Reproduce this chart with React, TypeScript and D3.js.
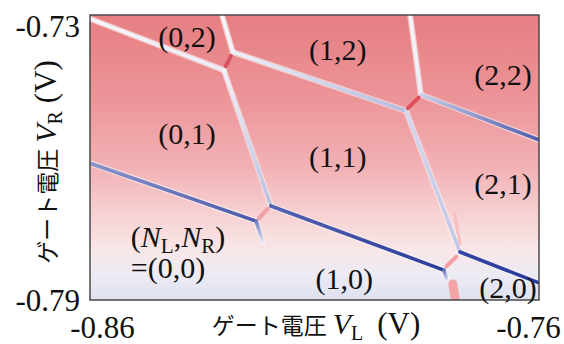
import React, { useEffect, useRef } from 'react';
import * as d3 from 'd3';

const xDomain: [number, number] = [-0.86, -0.76];
const yDomain: [number, number] = [-0.79, -0.73];
const xTicks = [-0.86, -0.76];
const yTicks = [-0.73, -0.79];
const xTickLabels = ['-0.86', '-0.76'];
const yTickLabels = ['-0.73', '-0.79'];

// background colour as a function of V_R
const bgLevels = [-0.73, -0.7479, -0.7626, -0.7721, -0.7795, -0.7847, -0.79];
const bgColors = ['#e67e82', '#ec9599', '#f2b3b6', '#f7d1d3', '#f9e7e8', '#ecebf4', '#dfe1f0'];

// charge transition lines, [V_L, V_R] points
const transitionLines: [number, number][][] = [
  [[-0.86, -0.7308], [-0.8302, -0.7416]],
  [[-0.8306, -0.73], [-0.8282, -0.7378]],
  [[-0.8282, -0.7378], [-0.7896, -0.7502]],
  [[-0.7887, -0.73], [-0.7863, -0.7468]],
  [[-0.7863, -0.7468], [-0.76, -0.7563]],
  [[-0.8302, -0.7416], [-0.8197, -0.7702]],
  [[-0.7896, -0.7502], [-0.7776, -0.7799]],
  [[-0.86, -0.7612], [-0.823, -0.7734]],
  [[-0.8197, -0.7702], [-0.7812, -0.7837]],
  [[-0.7776, -0.7799], [-0.76, -0.7864]],
  [[-0.823, -0.7734], [-0.8215, -0.7778]],
  [[-0.7812, -0.7837], [-0.7805, -0.7858]],
];
const lineColors: [string, string][] = [
  ['#f4f3f8', '#eceef8'],
  ['#f6f5f9', '#f2f2f8'],
  ['#eef0f8', '#b4bce0'],
  ['#f6f6fa', '#eceef8'],
  ['#c8cee8', '#4a5aae'],
  ['#f2f2f8', '#b8c0e2'],
  ['#d3d8ee', '#c0c6e6'],
  ['#8894cc', '#4858aa'],
  ['#5262b2', '#2c3e9c'],
  ['#3446a2', '#2a3c9c'],
  ['#7080c0', '#e8eaf6'],
  ['#6070b8', '#dfe2f2'],
];

// inter-dot (red) segments between triple points, and other red traces
const redLines: [number, number][][] = [
  [[-0.8298, -0.7408], [-0.8286, -0.7386]],
  [[-0.7892, -0.7496], [-0.7868, -0.7474]],
  [[-0.8224, -0.7728], [-0.8204, -0.7708]],
  [[-0.7806, -0.7829], [-0.7784, -0.7809]],
  [[-0.7792, -0.7866], [-0.7787, -0.7895]],
  [[-0.7788, -0.7716], [-0.7776, -0.7782]],
];
const redColors = ['#d85262', '#e0505c', '#f0a0a4', '#f2a0a2', '#f4a4a6', '#f4c0c2'];
const redWidths = [4, 4, 4, 4, 9, 3];

const regionLabels = ['(0,2)', '(1,2)', '(2,2)', '(0,1)', '(1,1)', '(2,1)', '(1,0)', '(2,0)'];
const regionAt: [number, number][] = [
  [-0.8384, -0.7346],
  [-0.8048, -0.7374],
  [-0.768, -0.7426],
  [-0.8384, -0.7551],
  [-0.8048, -0.7599],
  [-0.768, -0.7656],
  [-0.8034, -0.7856],
  [-0.7669, -0.7875],
];

const SERIF = 'Liberation Serif';
const CJK = 'Noto Sans CJK JP';

export default function App() {
  const svgRef = useRef<SVGSVGElement>(null);

  useEffect(() => {
    document.body.style.margin = '0';
    if (!svgRef.current) return;
    const svg = d3.select(svgRef.current);
    svg.selectAll('*').remove();

    const x = d3.scaleLinear().domain(xDomain).range([90, 539]);
    const y = d3.scaleLinear().domain(yDomain).range([300, 15]);
    const defs = svg.append('defs');

    // background
    const bg = defs
      .append('linearGradient')
      .attr('id', 'bg')
      .attr('gradientUnits', 'userSpaceOnUse')
      .attr('x1', 0)
      .attr('x2', 0)
      .attr('y1', y(-0.73))
      .attr('y2', y(-0.79));
    bgLevels.forEach((v, i) => {
      bg.append('stop')
        .attr('offset', (v - -0.73) / (-0.79 - -0.73))
        .attr('stop-color', bgColors[i]);
    });
    defs
      .append('filter')
      .attr('id', 'soft')
      .attr('x', '-20%')
      .attr('y', '-20%')
      .attr('width', '140%')
      .attr('height', '140%')
      .append('feGaussianBlur')
      .attr('stdDeviation', 0.7);
    defs.append('clipPath').attr('id', 'plot').append('rect')
      .attr('x', x(-0.86)).attr('y', y(-0.73))
      .attr('width', x(-0.76) - x(-0.86)).attr('height', y(-0.79) - y(-0.73));

    const g = svg.append('g').attr('clip-path', 'url(#plot)');
    g.append('rect')
      .attr('x', x(-0.86))
      .attr('y', y(-0.73))
      .attr('width', x(-0.76) - x(-0.86))
      .attr('height', y(-0.79) - y(-0.73))
      .attr('fill', 'url(#bg)');

    const line = d3
      .line<[number, number]>()
      .x((d) => x(d[0]))
      .y((d) => y(d[1]));

    transitionLines.forEach((pts, i) => {
      const a = pts[0];
      const b = pts[pts.length - 1];
      const lg = defs
        .append('linearGradient')
        .attr('id', `lg${i}`)
        .attr('gradientUnits', 'userSpaceOnUse')
        .attr('x1', x(a[0]))
        .attr('y1', y(a[1]))
        .attr('x2', x(b[0]))
        .attr('y2', y(b[1]));
      lg.append('stop').attr('offset', 0).attr('stop-color', lineColors[i][0]);
      lg.append('stop').attr('offset', 1).attr('stop-color', lineColors[i][1]);
    });

    const lines = g.append('g').attr('filter', 'url(#soft)');
    lines
      .selectAll('.halo')
      .data(transitionLines)
      .enter()
      .append('path')
      .attr('d', (d) => line(d))
      .attr('fill', 'none')
      .attr('stroke', '#fbf7f8')
      .attr('stroke-opacity', 0.55)
      .attr('stroke-width', 6)
      .attr('stroke-linecap', 'round');
    lines
      .selectAll('.tl')
      .data(transitionLines)
      .enter()
      .append('path')
      .attr('d', (d) => line(d))
      .attr('fill', 'none')
      .attr('stroke', (_, i) => `url(#lg${i})`)
      .attr('stroke-width', 3.6)
      .attr('stroke-linecap', 'round');
    lines
      .selectAll('.red')
      .data(redLines)
      .enter()
      .append('path')
      .attr('d', (d) => line(d))
      .attr('fill', 'none')
      .attr('stroke', (_, i) => redColors[i])
      .attr('stroke-width', (_, i) => redWidths[i])
      .attr('stroke-linecap', 'round');

    // frame
    svg
      .append('rect')
      .attr('x', x(-0.86))
      .attr('y', y(-0.73))
      .attr('width', x(-0.76) - x(-0.86))
      .attr('height', y(-0.79) - y(-0.73))
      .attr('fill', 'none')
      .attr('stroke', '#4a4a4a')
      .attr('stroke-width', 1.5);

    // region labels
    svg
      .selectAll('.rl')
      .data(regionLabels)
      .enter()
      .append('text')
      .attr('x', (_, i) => x(regionAt[i][0]))
      .attr('y', (_, i) => y(regionAt[i][1]))
      .attr('dy', '0.33em')
      .attr('text-anchor', 'middle')
      .style('font-family', SERIF)
      .attr('font-size', 30)
      .attr('fill', '#111')
      .text((d) => d);

    const nl = svg
      .append('text')
      .attr('x', x(-0.8509))
      .attr('y', y(-0.7767))
      .attr('dy', '0.33em')
      .style('font-family', SERIF)
      .attr('font-size', 30)
      .attr('fill', '#111');
    nl.append('tspan').text('(');
    nl.append('tspan').attr('font-style', 'italic').text('N');
    nl.append('tspan').attr('font-size', 21).attr('dy', 6).text('L');
    nl.append('tspan').attr('dy', -6).text(',');
    nl.append('tspan').attr('font-style', 'italic').text('N');
    nl.append('tspan').attr('font-size', 21).attr('dy', 6).text('R');
    nl.append('tspan').attr('dy', -6).text(')');
    svg
      .append('text')
      .attr('x', x(-0.8509))
      .attr('y', y(-0.7833))
      .attr('dy', '0.33em')
      .style('font-family', SERIF)
      .attr('font-size', 30)
      .attr('fill', '#111')
      .text('=(0,0)');

    // axes
    const xAxis = d3
      .axisBottom(x)
      .tickValues(xTicks)
      .tickSize(0)
      .tickFormat((_, i) => xTickLabels[i]);
    const xg = svg.append('g').attr('transform', `translate(0,${y(-0.79)})`).call(xAxis as any);
    xg.attr('font-family', null).attr('font-size', null);
    xg.select('.domain').remove();
    xg.selectAll('text')
      .style('font-family', SERIF)
      .attr('font-size', 31)
      .attr('fill', '#111')
      .attr('y', 38)
      .attr('dy', 0)
      .attr('dx', (_, i) => (i === 0 ? 12 : -11));

    const yAxis = d3
      .axisLeft(y)
      .tickValues(yTicks)
      .tickSize(0)
      .tickFormat((_, i) => yTickLabels[i]);
    const yg = svg.append('g').attr('transform', `translate(${x(-0.86)},0)`).call(yAxis as any);
    yg.attr('font-family', null).attr('font-size', null);
    yg.select('.domain').remove();
    yg.selectAll('text')
      .style('font-family', SERIF)
      .attr('font-size', 31)
      .attr('fill', '#111')
      .attr('x', -10)
      .attr('dy', (_, i) => (i === 0 ? 21.5 : 10.5));

    // axis titles
    const xt = svg
      .append('text')
      .attr('x', 316)
      .attr('y', 334)
      .attr('text-anchor', 'middle')
      .attr('fill', '#111');
    xt.append('tspan').style('font-family', CJK).attr('font-size', 23).text('ゲート電圧');
    xt.append('tspan').style('font-family', SERIF).attr('font-size', 30).attr('dx', 6).attr('font-style', 'italic').text('V');
    xt.append('tspan').style('font-family', SERIF).attr('font-size', 20).attr('dy', 6).text('L');
    xt.append('tspan').style('font-family', SERIF).attr('font-size', 31).attr('dy', -6).attr('dx', 14).text('(V)');

    const yt = svg
      .append('text')
      .attr('transform', 'translate(56,162) rotate(-90)')
      .attr('text-anchor', 'middle')
      .attr('fill', '#111');
    yt.append('tspan').style('font-family', CJK).attr('font-size', 23).text('ゲート電圧');
    yt.append('tspan').style('font-family', SERIF).attr('font-size', 30).attr('dx', 6).attr('font-style', 'italic').text('V');
    yt.append('tspan').style('font-family', SERIF).attr('font-size', 20).attr('dy', 6).text('R');
    yt.append('tspan').style('font-family', SERIF).attr('font-size', 31).attr('dy', -6).attr('dx', 8).text('(V)');
  }, []);

  return <svg ref={svgRef} width={564} height={344} style={{ display: 'block', background: '#fff' }} />;
}
